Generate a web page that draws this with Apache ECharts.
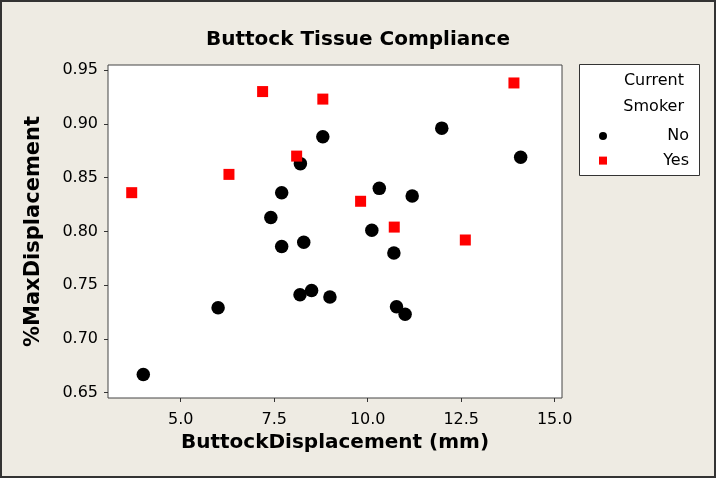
<!DOCTYPE html>
<html><head><meta charset="utf-8">
<script src="https://cdn.jsdelivr.net/npm/echarts@6/dist/echarts.min.js"></script>
<style>html,body{margin:0;padding:0;background:#EEEBE3;}#c{width:716px;height:478px;}</style>
</head><body><div id="c"></div>
<script>
const titleText = 'Buttock Tissue Compliance';
const xName = 'ButtockDisplacement (mm)';
const yName = '%MaxDisplacement';
const legendTitle = ['Current', 'Smoker'];
const xTicks = [5.0, 7.5, 10.0, 12.5, 15.0];
const yTicks = [0.65, 0.70, 0.75, 0.80, 0.85, 0.90, 0.95];
const noX = [8.80, 8.20, 7.70, 10.31, 7.41, 10.11, 7.70, 8.29, 10.70, 8.19, 8.50, 8.99, 10.77, 6.00, 4.00, 11.00, 11.98, 14.09, 11.19];
const noY = [0.888, 0.863, 0.836, 0.840, 0.813, 0.801, 0.786, 0.790, 0.780, 0.741, 0.745, 0.739, 0.730, 0.729, 0.667, 0.723, 0.896, 0.869, 0.833];
const yesX = [3.69, 7.19, 8.80, 8.10, 6.29, 9.81, 10.71, 12.61, 13.91];
const yesY = [0.836, 0.930, 0.923, 0.870, 0.853, 0.828, 0.804, 0.792, 0.938];

const FONT = 'DejaVu Sans';
const chart = echarts.init(document.getElementById('c'));
chart.setOption({
  backgroundColor: '#EEEBE3',
  animation: false,
  title: {text: titleText, left: 'center', top: 25, textStyle: {fontFamily: FONT, fontWeight: 'bold', fontSize: 20, color: '#000'}},
  grid: {left: 108, right: 154, top: 65, bottom: 80, show: true, backgroundColor: '#fff', borderColor: '#444', borderWidth: 1},
  xAxis: {
    type: 'value', min: 3.056, max: 15.195,
    name: xName, nameLocation: 'middle', nameGap: 32,
    nameTextStyle: {fontFamily: FONT, fontWeight: 'bold', fontSize: 20, color: '#000'},
    axisLine: {show: false}, splitLine: {show: false},
    axisTick: {show: true, length: 4, inside: false, lineStyle: {color: '#333'}, customValues: xTicks},
    axisLabel: {fontFamily: FONT, fontSize: 16, color: '#000', margin: 14, customValues: xTicks, formatter: v => v.toFixed(1)}
  },
  yAxis: {
    type: 'value', min: 0.6451, max: 0.9547,
    name: yName, nameLocation: 'middle', nameGap: 64, nameRotate: 90,
    nameTextStyle: {fontFamily: FONT, fontWeight: 'bold', fontSize: 21, color: '#000'},
    axisLine: {show: false}, splitLine: {show: false},
    axisTick: {show: true, length: 4, inside: false, lineStyle: {color: '#333'}, customValues: yTicks},
    axisLabel: {fontFamily: FONT, fontSize: 16, color: '#000', margin: 10, customValues: yTicks, formatter: v => v.toFixed(2)}
  },
  legend: {
    orient: 'vertical', left: 594, top: 123, itemWidth: 8, itemHeight: 8, itemGap: 8.6,
    data: [{name: 'No', icon: 'circle'}, {name: 'Yes', icon: 'rect'}],
    formatter: '{a|{name}}',
    textStyle: {fontFamily: FONT, fontSize: 16, color: '#000', rich: {a: {width: 77, align: 'right', fontFamily: FONT, fontSize: 16, lineHeight: 18}}}
  },
  graphic: [
    {type: 'rect', silent: true, shape: {x: 579.5, y: 64.5, width: 120, height: 111}, style: {fill: '#fff', stroke: '#333', lineWidth: 1}, z: -1},
    {type: 'text', silent: true, style: {text: legendTitle[0], x: 684, y: 81, align: 'right', verticalAlign: 'middle', font: '16px "DejaVu Sans"', fill: '#000'}},
    {type: 'text', silent: true, style: {text: legendTitle[1], x: 684, y: 107, align: 'right', verticalAlign: 'middle', font: '16px "DejaVu Sans"', fill: '#000'}},
    {type: 'rect', silent: true, shape: {x: 1, y: 1, width: 714, height: 476}, style: {fill: 'none', stroke: '#333', lineWidth: 2}}
  ],
  series: [
    {name: 'No', type: 'scatter', symbol: 'circle', symbolSize: 13.5, itemStyle: {color: '#000', opacity: 1}, data: noX.map((x, i) => [x, noY[i]])},
    {name: 'Yes', type: 'scatter', symbol: 'rect', symbolSize: 11, itemStyle: {color: '#FF0000', opacity: 1}, data: yesX.map((x, i) => [x, yesY[i]])}
  ]
});
</script></body></html>
